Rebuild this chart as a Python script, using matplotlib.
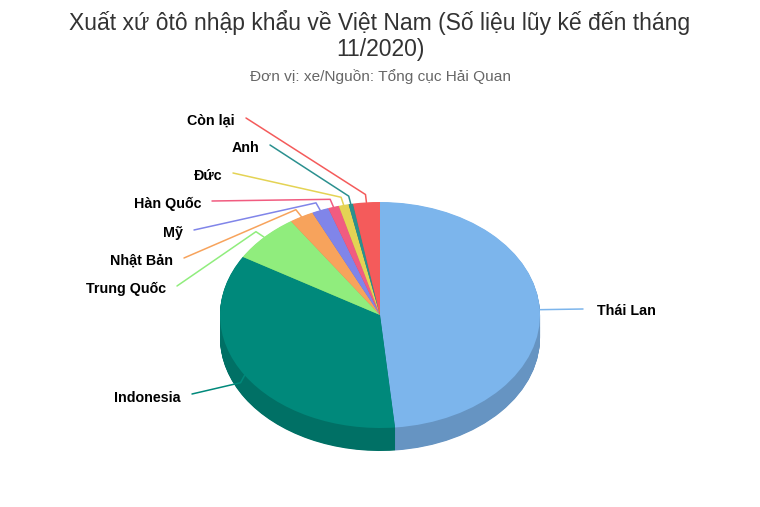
import numpy as np
import matplotlib
matplotlib.use("Agg")
import matplotlib.pyplot as plt
from matplotlib.colors import to_rgb

# ---- data ----
categories = ["Thái Lan", "Indonesia", "Trung Quốc", "Nhật Bản", "Mỹ",
              "Hàn Quốc", "Đức", "Anh", "Còn lại"]
shares = [48.5, 35.1, 7.0, 2.45, 1.7, 1.1, 1.0, 0.45, 2.7]
colors = ["#7cb5ec", "#00897b", "#90ed7d", "#f7a35c", "#8085e9",
          "#f15c80", "#e4d354", "#2b908f", "#f45b5b"]
title = "Xuất xứ ôtô nhập khẩu về Việt Nam (Số liệu lũy kế đến tháng\n11/2020)"
subtitle = "Đơn vị: xe/Nguồn: Tổng cục Hải Quan"

plt.rcParams['font.family'] = ['Liberation Sans', 'DejaVu Sans']

W, H = 760, 507
fig = plt.figure(figsize=(W / 100, H / 100), dpi=100)
ax = fig.add_axes([0, 0, 1, 1])

# geometry in pixels
cx, cy = 380, 315          # centre (from top)
rx, ry = 160, 113          # radii in pixels
depth_px = 23

def dark(c, f=0.82):
    r, g, b = to_rgb(c)
    return (r * f, g * f, b * f)

# side (3D depth) : stacked pies, darker colours
nlayers = 40
d = depth_px / ry
for k in range(nlayers, 0, -1):
    ax.pie(shares, colors=[dark(c) for c in colors], startangle=90,
           counterclock=False, center=(0, -d * k / nlayers), radius=1,
           wedgeprops=dict(linewidth=0), normalize=True)
# top face
ax.pie(shares, colors=colors, startangle=90, counterclock=False,
       center=(0, 0), radius=1, wedgeprops=dict(linewidth=0), normalize=True)

ax.set_aspect('auto')
ax.set_xlim(-cx / rx, (W - cx) / rx)
ax.set_ylim(-(H - cy) / ry, cy / ry)
ax.axis('off')

def to_data(px, py):
    return (px - cx) / rx, (cy - py) / ry

# ---- labels & connectors ----
total = sum(shares)
cum = np.cumsum([0] + shares[:-1])
mids = [(c + s / 2) / total * 360 for c, s in zip(cum, shares)]

label_pos = {
    "Thái Lan": (597, 311, 'left'),
    "Indonesia": (181, 398, 'right'),
    "Trung Quốc": (166, 289, 'right'),
    "Nhật Bản": (173, 261, 'right'),
    "Mỹ": (183, 233, 'right'),
    "Hàn Quốc": (201, 204, 'right'),
    "Đức": (222, 176, 'right'),
    "Anh": (259, 148, 'right'),
    "Còn lại": (235, 121, 'right'),
}

for name, m, col in zip(categories, mids, colors):
    th = np.deg2rad(m)
    ax_pt = (np.sin(th), np.cos(th))
    lx, ly, ha = label_pos[name]
    if name == "Thái Lan":
        elbow = ax_pt
        start = to_data(lx - 14, ly - 2)
    elif name == "Indonesia":
        elbow = (np.sin(th) * 1.03, np.cos(th) * 1.03 - 0.05)
        start = to_data(lx + 11, ly - 4)
    else:
        elbow = (np.sin(th) * 1.07, np.cos(th) * 1.07)
        start = to_data(lx + 11, ly - 3)
    xs = [start[0], elbow[0], ax_pt[0]]
    ys = [start[1], elbow[1], ax_pt[1]]
    ax.plot(xs, ys, color=col, lw=1.1, solid_capstyle='round',
            solid_joinstyle='round', zorder=5)
    tx, ty = to_data(lx, ly)
    ax.text(tx, ty, name, ha=ha, va='center', fontsize=10.3,
            fontweight='bold', color='black', zorder=6)

fig.text(0.5, 1 - 35.5 / H, title, ha='center', va='center', fontsize=16.5,
         color='#333333', linespacing=1.22)
fig.text(0.5, 1 - 77 / H, subtitle, ha='center', va='center', fontsize=11.1,
         color='#666666')

fig.savefig("out.png", dpi=100, facecolor='white')
